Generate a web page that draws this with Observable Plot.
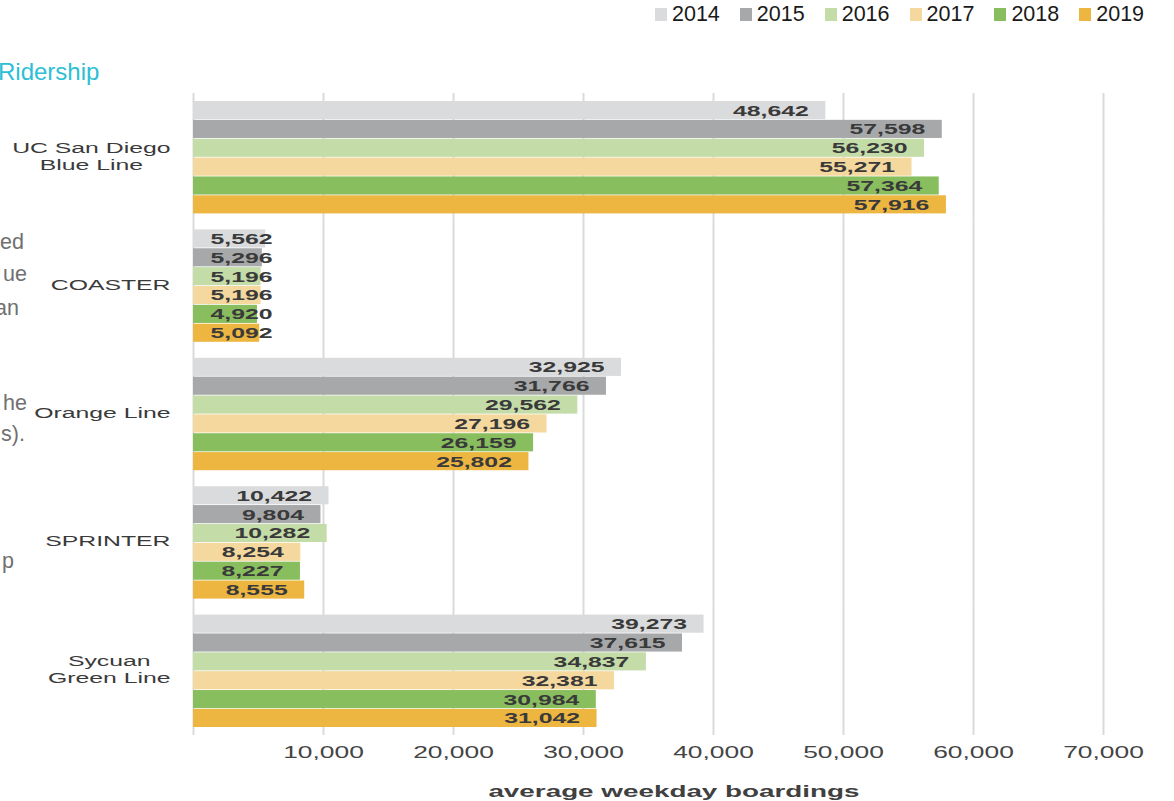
<!DOCTYPE html>
<html>
<head>
<meta charset="utf-8">
<script src="https://cdn.jsdelivr.net/npm/d3@7"></script>
<script src="https://cdn.jsdelivr.net/npm/@observablehq/plot@0.6"></script>
<style>
  body { margin: 0; background: #fff; font-family: "Liberation Sans", Arial, sans-serif; }
  #wrap { position: relative; width: 1174px; height: 801px; overflow: hidden; background: #fff; }
  #wrap svg { position: absolute; left: 0; top: 0; }
  .legend { position: absolute; left: 655px; top: 0; height: 29px; display: flex; align-items: center; }
  .legend .item { display: flex; align-items: center; margin-right: 20px; }
  .legend .sw { width: 12px; height: 13px; margin-right: 5px; }
  .legend .lab { font-size: 21.5px; color: #1a1a1a; line-height: 1; }
  .title { position: absolute; left: -2px; top: 60px; font-size: 24px; line-height: 24px; color: #2cbfd4; white-space: nowrap; }
  .frag { position: absolute; font-size: 21.5px; line-height: 21px; color: #707070; white-space: nowrap; }
  .xlabel { position: absolute; left: 474px; width: 400px; top: 781px; text-align: center; font-weight: bold; font-size: 17.4px; line-height: 20px; color: #404040; transform: scaleX(1.6); transform-origin: center; white-space: nowrap; }
</style>
</head>
<body>
<div id="wrap"></div>
<script>
// ---- data ----
const stations = ["UC San Diego Blue Line", "COASTER", "Orange Line", "SPRINTER", "Sycuan Green Line"];
const stationLabels = ["UC San Diego\nBlue Line", "COASTER", "Orange Line", "SPRINTER", "Sycuan\nGreen Line"];
const years = ["2014", "2015", "2016", "2017", "2018", "2019"];
const blueLineValues = [48642, 57598, 56230, 55271, 57364, 57916];
const coasterValues = [5562, 5296, 5196, 5196, 4920, 5092];
const orangeLineValues = [32925, 31766, 29562, 27196, 26159, 25802];
const sprinterValues = [10422, 9804, 10282, 8254, 8227, 8555];
const greenLineValues = [39273, 37615, 34837, 32381, 30984, 31042];
const yearColors = ["#dadbdd", "#a7a8aa", "#c3dca8", "#f5d89d", "#89be5e", "#ecb641"];
const xTicks = [10000, 20000, 30000, 40000, 50000, 60000, 70000];
const gridTicks = [0, 10000, 20000, 30000, 40000, 50000, 60000, 70000];
const xLabel = "average weekday boardings";
const titleText = "Ridership";
const sideFragments = [
  {text: "ed", right: 24, top: 232},
  {text: "ue", right: 27, top: 264},
  {text: "an", right: 19, top: 298},
  {text: "he", right: 27, top: 393},
  {text: "s).", right: 25, top: 424},
  {text: "p", right: 14, top: 551}
];

const seriesByStation = [blueLineValues, coasterValues, orangeLineValues, sprinterValues, greenLineValues];
const rows = stations.flatMap((s, i) => years.map((y, j) => ({station: s, year: y, value: seriesByStation[i][j]})));

const STRETCH = 1.6;
const insideMin = 7000;
const fmt = d3.format(",");
const FONT = '"Liberation Sans", Arial, Helvetica, sans-serif';

const chart = Plot.plot({
  width: 1174,
  height: 801,
  marginTop: 93,
  marginBottom: 66,
  marginLeft: 193,
  marginRight: 71,
  style: {fontFamily: FONT, background: "transparent"},
  x: {domain: [0, 70000]},
  y: {domain: years, paddingInner: 0.04, paddingOuter: 0.424, round: false, axis: null},
  fy: {domain: stations, padding: 0, round: false, axis: null},
  color: {domain: years, range: yearColors},
  marks: [
    Plot.gridX(gridTicks, {stroke: "#dadada", strokeOpacity: 1, strokeWidth: 2}),
    Plot.barX(rows, {x: "value", y: "year", fy: "station", fill: "year"}),
    Plot.text(rows.filter(d => d.value >= insideMin), {
      x: "value", y: "year", fy: "station", text: d => fmt(d.value),
      textAnchor: "end", dx: -17, fontWeight: "bold", fontSize: 15.5, fill: "#3a3a3a"
    }),
    Plot.text(rows.filter(d => d.value < insideMin), {
      frameAnchor: "left", y: "year", fy: "station", text: d => fmt(d.value),
      textAnchor: "start", dx: 17, fontWeight: "bold", fontSize: 15.5, fill: "#3a3a3a"
    }),
    Plot.text(stations, {
      fy: d => d, text: (d, i) => stationLabels[i], frameAnchor: "left", dx: -23, dy: -2,
      textAnchor: "middle", lineHeight: 1.1, fontSize: 15.5, fill: "#3a3a3a"
    }),
    Plot.axisX(xTicks, {tickSize: 0, tickPadding: 11, tickFormat: d => fmt(d), fontSize: 16.5, fill: "#444", label: null})
  ]
});

const wrap = document.getElementById("wrap");
wrap.appendChild(chart);

// horizontally extended lettering of the chart
const num = v => (v != null && /^-?[\d.]+$/.test(v.trim())) ? +v : 0;
chart.querySelectorAll("text").forEach(t => {
  const x = num(t.getAttribute("x"));
  const tr = t.getAttribute("transform") || "";
  t.setAttribute("transform", `${tr} translate(${x},0) scale(${STRETCH},1) translate(${-x},0)`.trim());
});
// station labels: centred lines, block right-aligned
const flatLabels = stationLabels.map(s => s.replace(/\n/g, ""));
chart.querySelectorAll("text").forEach(t => {
  if (!flatLabels.includes(t.textContent.replace(/\n/g, ""))) return;
  const w = t.getBBox().width * STRETCH;
  t.setAttribute("transform", `translate(${-w / 2},0) ` + t.getAttribute("transform"));
});

// legend
const colorScale = chart.scale("color");
const legend = document.createElement("div");
legend.className = "legend";
colorScale.domain.forEach((y, i) => {
  const item = document.createElement("div");
  item.className = "item";
  const sw = document.createElement("div");
  sw.className = "sw";
  sw.style.background = colorScale.range[i];
  const lab = document.createElement("span");
  lab.className = "lab";
  lab.textContent = y;
  item.appendChild(sw);
  item.appendChild(lab);
  legend.appendChild(item);
});
wrap.appendChild(legend);

// title fragment
const title = document.createElement("div");
title.className = "title";
title.textContent = titleText;
wrap.appendChild(title);

// cropped paragraph fragments at left edge
sideFragments.forEach(f => {
  const d = document.createElement("div");
  d.className = "frag";
  d.style.right = (1174 - f.right) + "px";
  d.style.top = f.top + "px";
  d.textContent = f.text;
  wrap.appendChild(d);
});

// x-axis title
const xl = document.createElement("div");
xl.className = "xlabel";
xl.textContent = xLabel;
wrap.appendChild(xl);
</script>
</body>
</html>
